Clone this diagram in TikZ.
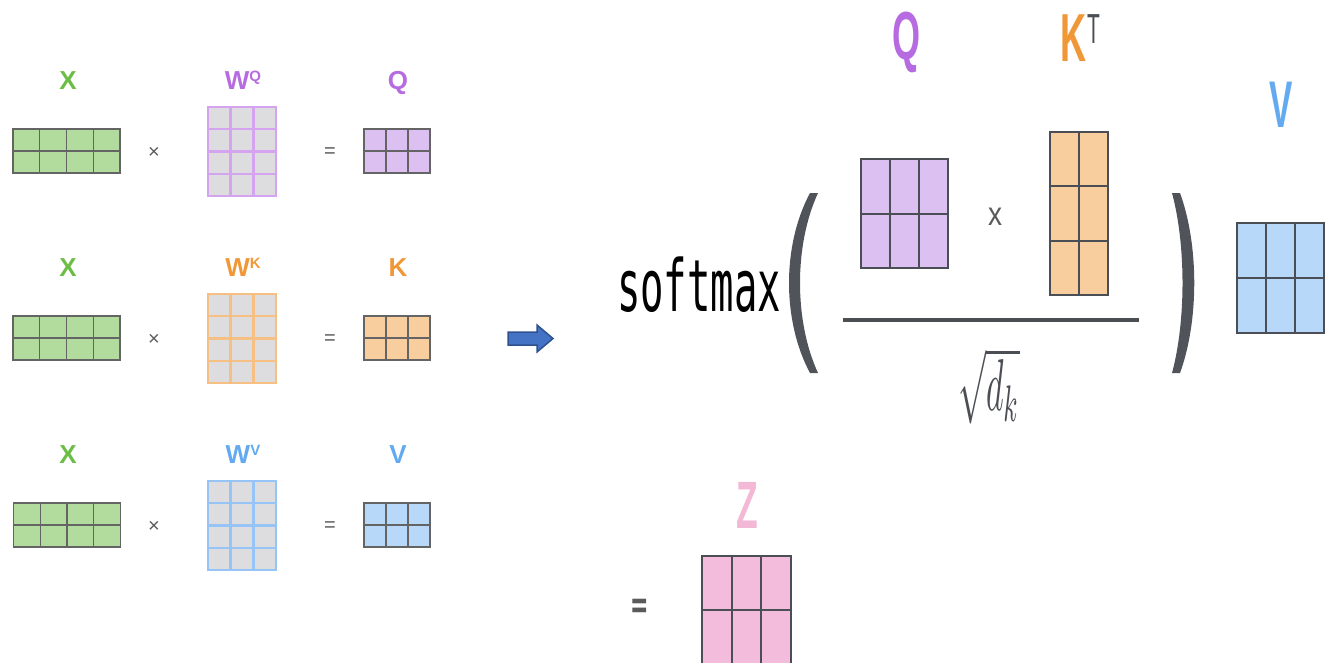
\documentclass[tikz,border=0pt]{standalone}
\usepackage{fontspec}
\setmainfont{Liberation Sans}
\newfontfamily\monof{DejaVu Sans Mono}
\newfontfamily\dejav{DejaVu Sans}
\usetikzlibrary{calc}
\definecolor{xg}{RGB}{108,189,69}
\definecolor{gfill}{RGB}{178,220,158}
\definecolor{gridc}{RGB}{100,100,100}
\definecolor{gridd}{RGB}{75,78,84}
\definecolor{pl}{RGB}{182,108,224}
\definecolor{pfill}{RGB}{220,192,242}
\definecolor{pline}{RGB}{212,164,240}
\definecolor{ol}{RGB}{240,152,56}
\definecolor{ofill}{RGB}{248,206,158}
\definecolor{oline}{RGB}{246,192,132}
\definecolor{bl}{RGB}{100,170,240}
\definecolor{bfill}{RGB}{184,216,250}
\definecolor{bline}{RGB}{150,196,246}
\definecolor{wfill}{RGB}{221,221,223}
\definecolor{zl}{RGB}{242,184,214}
\definecolor{zfill}{RGB}{244,188,220}
\definecolor{parc}{RGB}{80,84,90}
\definecolor{opc}{RGB}{90,90,90}
\definecolor{arrf}{RGB}{68,114,196}
\definecolor{arrd}{RGB}{47,82,143}
\tikzset{
  mbox/.style={rectangle, outer sep=0pt, inner sep=0pt},
  dk/.style={draw=gridc, line width=1.2pt},
  dkr/.style={draw=gridd, line width=2pt},
  wq/.style={draw=pline, line width=2.4pt},
  wk/.style={draw=oline, line width=2.4pt},
  wv/.style={draw=bline, line width=2.4pt},
  lab/.style={font=\fontsize{26}{26}\selectfont\bfseries, inner sep=0pt, anchor=base},
  op/.style={font=\fontsize{20}{20}\selectfont, text=opc, inner sep=0pt},
  big/.style={inner sep=0pt, anchor=base, xscale=0.53},
}
\newcommand\gridmat[9]{%
  \node[mbox, fill=#8, #9, minimum width=#4pt, minimum height=#5pt] (#1) at (#2,#3) {};
  \pgfmathtruncatemacro\mgc{#6-1}%
  \pgfmathtruncatemacro\mgr{#7-1}%
  \foreach \i in {1,...,\mgc}{\draw[#9] ($(#1.north west)!\i/#6!(#1.north east)$) -- ($(#1.south west)!\i/#6!(#1.south east)$);}
  \foreach \j in {1,...,\mgr}{\draw[#9] ($(#1.north west)!\j/#7!(#1.south west)$) -- ($(#1.north east)!\j/#7!(#1.south east)$);}
}
\begin{document}
\begin{tikzpicture}[x=1pt,y=-1pt]
\useasboundingbox (0,0) rectangle (1340,662);
% ---- row 1 (Q)
\node[lab, text=xg] (lx1) at (68,89) {X};
\node[lab, text=pl] (lwq) at (243,89) {W\raisebox{8pt}{\fontsize{15}{15}\selectfont Q}};
\node[lab, text=pl] (lq) at (398,89) {Q};
\gridmat{x1}{66.5}{151}{107}{44}{4}{2}{gfill}{dk}
\node[op] (t1) at (154,153) {×};
\gridmat{wq}{242}{151.5}{68}{89}{3}{4}{wfill}{wq}
\node[op] (e1) at (330,153) {=};
\gridmat{q}{397}{151}{66}{44}{3}{2}{pfill}{dk}
% ---- row 2 (K)
\node[lab, text=xg] (lx2) at (68,276) {X};
\node[lab, text=ol] (lwk) at (243,276) {W\raisebox{8pt}{\fontsize{15}{15}\selectfont K}};
\node[lab, text=ol] (lk) at (398,276) {K};
\gridmat{x2}{66.5}{338}{107}{44}{4}{2}{gfill}{dk}
\node[op] (t2) at (154,340) {×};
\gridmat{wk}{242}{338.5}{68}{89}{3}{4}{wfill}{wk}
\node[op] (e2) at (330,340) {=};
\gridmat{k}{397}{338}{66}{44}{3}{2}{ofill}{dk}
% ---- row 3 (V)
\node[lab, text=xg] (lx3) at (68,463) {X};
\node[lab, text=bl] (lwv) at (243,463) {W\raisebox{8pt}{\fontsize{15}{15}\selectfont V}};
\node[lab, text=bl] (lv) at (398,463) {V};
\gridmat{x3}{67}{525}{107}{44}{4}{2}{gfill}{dk}
\node[op] (t3) at (154,527) {×};
\gridmat{wv}{242}{525.5}{68}{89}{3}{4}{wfill}{wv}
\node[op] (e3) at (330,527) {=};
\gridmat{v}{397}{525}{66}{44}{3}{2}{bfill}{dk}
% ---- block arrow
\draw[fill=arrf, draw=arrd, line width=1.5pt, line join=miter]
  (508,332) -- (537,332) -- (537,325) -- (553,338.5) -- (537,352) -- (537,345) -- (508,345) -- cycle;
% ---- right formula
\node[inner sep=0pt, anchor=base west, xscale=0.54, font=\monof\fontsize{72}{72}\selectfont] (sm) at (617,311) {softmax};
\fill[parc] (810,193) .. controls (782,245) and (782,321) .. (810,373) -- (818,373) .. controls (794,321) and (794,245) .. (818,193) -- cycle;
\fill[parc] (1180,193) .. controls (1199,245) and (1199,321) .. (1180,373) -- (1172,373) .. controls (1186,321) and (1186,245) .. (1172,193) -- cycle;
\node[big, text=pl, font=\fontsize{68}{68}\selectfont\bfseries] (rq) at (907,59) {Q};
\node[big, text=ol, font=\fontsize{68}{68}\selectfont\bfseries] (rk) at (1073,61) {K};
\node[inner sep=0pt, anchor=base, xscale=0.5, text=gridd, font=\fontsize{42}{42}\selectfont] (rt) at (1093.5,43) {T};
\node[big, text=bl, font=\fontsize{66}{66}\selectfont\bfseries] (rv) at (1281,127) {V};
\gridmat{qr}{904.5}{213.5}{87}{109}{3}{2}{pfill}{dkr}
\node[inner sep=0pt, xscale=0.85, text=opc, font=\fontsize{33}{33}\selectfont] (rx) at (995,217) {x};
\gridmat{kt}{1079}{213.5}{58}{163}{2}{3}{ofill}{dkr}
\gridmat{vr}{1280.5}{278}{87}{110}{3}{2}{bfill}{dkr}
\draw[draw=gridd, line width=4pt] (843,320) -- (1139,320);
\node[inner sep=0pt, text=gridd] (sq) at (989,386) {\resizebox{62pt}{63pt}{$\sqrt{d_k}$}};
% ---- result Z
\node[big, text=zl, font=\fontsize{67}{67}\selectfont\bfseries] (rz) at (747.5,528) {Z};
\node[inner sep=0pt, xscale=0.55, text=opc, font=\dejav\bfseries\fontsize{40}{40}\selectfont] (ez) at (639.5,609) {=};
\gridmat{z}{746.5}{610}{89}{108}{3}{2}{zfill}{dkr}
\end{tikzpicture}
\end{document}
